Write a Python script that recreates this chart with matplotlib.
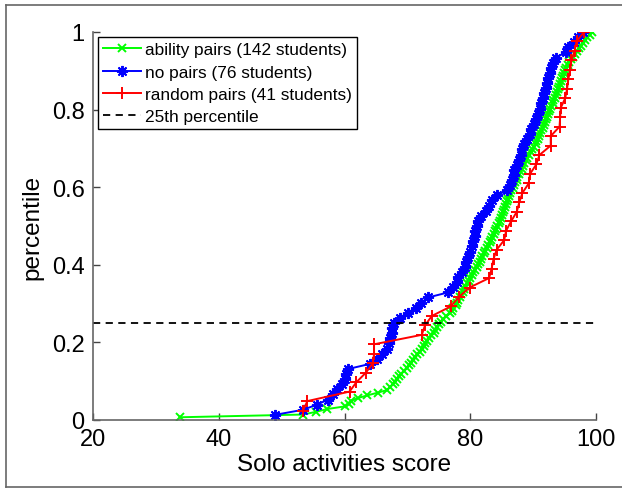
import numpy as np
import matplotlib
matplotlib.use("Agg")
import matplotlib.pyplot as plt
from matplotlib.lines import Line2D

plt.rcParams['font.family'] = ['Liberation Sans', 'DejaVu Sans']

ability_scores = [
    33.8, 53.4, 55.5, 57.2, 60.1, 60.7, 61.0, 62.1, 63.6, 65.3,
    66.8, 67.2, 67.7, 68.0, 68.4, 68.7, 69.0, 69.5, 69.9, 70.3,
    70.6, 70.9, 71.2, 71.6, 72.0, 72.3, 72.6, 72.8, 73.1, 73.5,
    73.8, 74.2, 74.4, 74.7, 75.0, 75.3, 75.7, 76.2, 76.7, 77.1,
    77.3, 77.7, 77.9, 78.1, 78.4, 78.6, 78.8, 79.0, 79.2, 79.5,
    79.8, 80.0, 80.3, 80.5, 80.8, 81.0, 81.2, 81.5, 81.7, 81.9,
    82.2, 82.4, 82.6, 82.8, 83.1, 83.3, 83.5, 83.7, 83.9, 84.1,
    84.3, 84.5, 84.7, 84.9, 85.1, 85.2, 85.4, 85.5, 85.7, 85.8,
    86.0, 86.2, 86.4, 86.5, 86.8, 87.0, 87.1, 87.4, 87.5, 87.7,
    87.9, 88.2, 88.4, 88.6, 88.9, 89.1, 89.3, 89.6, 89.8, 90.1,
    90.4, 90.5, 90.7, 90.9, 91.1, 91.3, 91.5, 91.7, 91.9, 92.0,
    92.2, 92.4, 92.5, 92.7, 92.8, 93.1, 93.2, 93.4, 93.6, 93.8,
    94.0, 94.1, 94.3, 94.4, 94.6, 94.8, 94.9, 95.1, 95.2, 95.5,
    95.7, 96.0, 96.3, 96.7, 97.0, 97.3, 97.6, 97.9, 98.3, 98.6,
    99.0, 99.4,
]
nopair_scores = [
    48.9, 53.4, 55.6, 57.4, 58.2, 58.8, 59.6, 60.1, 60.3, 60.6,
    64.1, 65.2, 66.0, 66.8, 67.1, 67.3, 67.5, 67.6, 67.9, 68.8,
    70.1, 71.4, 72.2, 73.3, 76.5, 77.3, 77.9, 78.1, 78.7, 79.1,
    79.4, 79.6, 80.0, 80.3, 80.5, 80.8, 80.8, 81.0, 81.2, 81.7,
    82.5, 83.0, 83.5, 84.3, 85.8, 86.4, 86.7, 86.9, 87.0, 87.4,
    87.7, 88.1, 88.3, 88.6, 89.0, 89.5, 89.7, 90.1, 90.5, 90.8,
    91.1, 91.3, 91.5, 91.7, 92.0, 92.2, 92.4, 92.7, 92.9, 93.1,
    93.6, 95.2, 95.6, 96.5, 97.1, 98.0,
]
random_scores = [
    53.4, 54.1, 60.8, 61.9, 63.4, 64.5, 64.7, 64.7, 72.3, 72.8,
    73.9, 76.9, 78.2, 79.9, 83.0, 83.4, 83.7, 84.2, 85.4, 85.7,
    86.5, 87.4, 87.8, 88.3, 89.3, 89.5, 90.5, 91.0, 92.8, 92.8,
    94.2, 94.3, 94.4, 95.1, 95.4, 95.6, 95.9, 96.1, 96.6, 96.9,
    98.1,
]
series_labels = ['ability pairs (142 students)', 'no pairs (76 students)',
                 'random pairs (41 students)', '25th percentile']
percentile_line = 0.25
x_ticks = [20, 40, 60, 80, 100]
y_ticks = [0, 0.2, 0.4, 0.6, 0.8, 1]
y_tick_labels = ['0', '0.2', '0.4', '0.6', '0.8', '1']

W, H = 622, 489
fig = plt.figure(figsize=(W / 100, H / 100), dpi=100)
ax = fig.add_axes([93 / W, 1 - 421 / H, (596 - 93) / W, (421 - 33) / H])

def ecdf(vals):
    v = np.sort(np.asarray(vals, dtype=float))
    return v, np.arange(1, len(v) + 1) / len(v)

styles = [
    (ability_scores, (0, 1, 0), 'x', 5.5),
    (nopair_scores, (0, 0, 1), (8, 2, 0), 8),
    (random_scores, (1, 0, 0), '+', 9),
]
for (vals, col, mk, ms), lab in zip(styles, series_labels[:3]):
    xs, ys = ecdf(vals)
    ax.plot(xs, ys, color=col, marker=mk, markersize=ms, markeredgewidth=1.4,
            linewidth=1.4, label=lab)

ax.plot([20, 100], [percentile_line, percentile_line], color='black',
        linestyle=(0, (4, 3)), linewidth=1.3, label=series_labels[3])

ax.set_xlim(20, 100)
ax.set_ylim(0, 1)
ax.set_xticks(x_ticks)
ax.set_xticklabels([str(t) for t in x_ticks])
ax.set_yticks(y_ticks)
ax.set_yticklabels(y_tick_labels)
for s in ['top', 'right']:
    ax.spines[s].set_visible(False)
for s in ['left', 'bottom']:
    ax.spines[s].set_color('#666666')
    ax.spines[s].set_linewidth(1.2)
ax.tick_params(direction='in', length=5, width=1, colors='#444444',
               labelcolor='black', labelsize=17, pad=6)
ax.set_xlabel('Solo activities score', fontsize=17.5, labelpad=2)
ax.set_ylabel('percentile', fontsize=17.5, labelpad=6)

leg = ax.legend(loc='upper left', fontsize=12.4, frameon=True, fancybox=False,
                edgecolor='black', framealpha=1, borderaxespad=0.3,
                handlelength=2.2, handletextpad=0.2, labelspacing=0.42,
                borderpad=0.3)
leg.get_frame().set_linewidth(1.0)

# outer figure frame
fc = '#666666'
fig.add_artist(Line2D([5.5 / W, 5.5 / W], [1.5 / H, 1 - 5.5 / H], color=fc, lw=1.2))
fig.add_artist(Line2D([5.5 / W, 1.0], [1 - 5.5 / H, 1 - 5.5 / H], color=fc, lw=1.2))
fig.add_artist(Line2D([5.5 / W, 1.0], [1.5 / H, 1.5 / H], color=fc, lw=1.2))

fig.savefig('out.png', dpi=100)
